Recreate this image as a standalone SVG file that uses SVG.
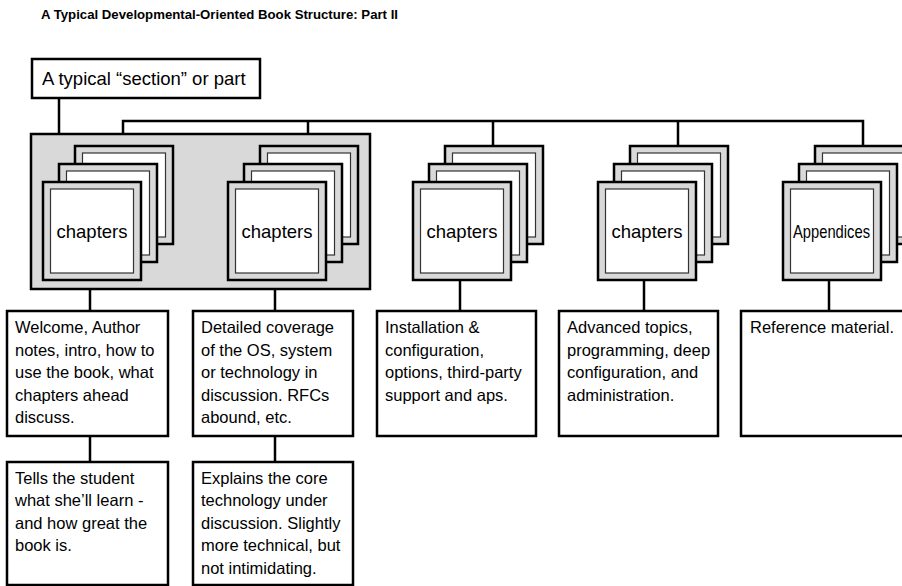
<svg xmlns="http://www.w3.org/2000/svg" xmlns:xlink="http://www.w3.org/1999/xlink" width="902" height="586" viewBox="0 0 902 586">
<style>
.title{font-family:"Liberation Sans",Arial,sans-serif;font-weight:bold;font-size:13px;fill:#000}
.lbl{font-family:"Liberation Sans",Arial,sans-serif;font-size:18.5px;fill:#000}
.body{font-family:"Liberation Sans",Arial,sans-serif;font-size:16.5px;fill:#000}
.box{fill:#fff;stroke:#000;stroke-width:2.5}
.conn{fill:none;stroke:#000;stroke-width:2.5}
</style>
<defs>
<g id="card">
<rect x="0" y="0" width="98" height="98" fill="#d9d9d9" stroke="#000" stroke-width="2.5"/>
<rect x="7.5" y="7" width="83" height="84" fill="#fff" stroke="#333" stroke-width="1.2"/>
</g>
</defs>
<rect width="902" height="586" fill="#fff"/>
<text class="title" x="41" y="19" textLength="357" lengthAdjust="spacingAndGlyphs">A Typical Developmental-Oriented Book Structure: Part II</text>

<g id="connectors">
<line class="conn" x1="59" y1="98" x2="59" y2="134"/>
<polyline class="conn" points="123,146 123,121 863,121 863,146"/>
<line class="conn" x1="308" y1="121" x2="308" y2="146"/>
<line class="conn" x1="493" y1="121" x2="493" y2="146"/>
<line class="conn" x1="678" y1="121" x2="678" y2="146"/>
<line class="conn" x1="90" y1="281" x2="90" y2="311"/>
<line class="conn" x1="275" y1="281" x2="275" y2="311"/>
<line class="conn" x1="460" y1="281" x2="460" y2="311"/>
<line class="conn" x1="644" y1="281" x2="644" y2="311"/>
<line class="conn" x1="829" y1="281" x2="829" y2="311"/>
<line class="conn" x1="90" y1="436" x2="90" y2="462"/>
<line class="conn" x1="275" y1="436" x2="275" y2="462"/>
</g>

<g id="part-box">
<rect class="box" x="32" y="59" width="228" height="39"/>
<text class="lbl" x="42" y="85">A typical “section” or part</text>
</g>

<g id="group-box">
<rect x="31" y="134" width="339" height="155" fill="#d9d9d9" stroke="#000" stroke-width="2.5"/>
</g>

<g id="stack1">
<use xlink:href="#card" x="75" y="146"/>
<use xlink:href="#card" x="59" y="164"/>
<use xlink:href="#card" x="43" y="182"/>
<text class="lbl" x="92" y="238" text-anchor="middle">chapters</text>
</g>
<g id="stack2">
<use xlink:href="#card" x="260" y="146"/>
<use xlink:href="#card" x="244" y="164"/>
<use xlink:href="#card" x="228" y="182"/>
<text class="lbl" x="277" y="238" text-anchor="middle">chapters</text>
</g>
<g id="stack3">
<use xlink:href="#card" x="445" y="146"/>
<use xlink:href="#card" x="429" y="164"/>
<use xlink:href="#card" x="413" y="182"/>
<text class="lbl" x="462" y="238" text-anchor="middle">chapters</text>
</g>
<g id="stack4">
<use xlink:href="#card" x="630" y="146"/>
<use xlink:href="#card" x="614" y="164"/>
<use xlink:href="#card" x="598" y="182"/>
<text class="lbl" x="647" y="238" text-anchor="middle">chapters</text>
</g>
<g id="stack5">
<use xlink:href="#card" x="815" y="146"/>
<use xlink:href="#card" x="799" y="164"/>
<use xlink:href="#card" x="783" y="182"/>
<text class="lbl" x="831.5" y="238" text-anchor="middle" textLength="77" lengthAdjust="spacingAndGlyphs">Appendices</text>
</g>

<g id="desc1">
<rect class="box" x="7" y="311" width="161" height="125"/>
<text class="body"><tspan x="15" y="333">Welcome, Author</tspan><tspan x="15" y="355.5">notes, intro, how to</tspan><tspan x="15" y="378">use the book, what</tspan><tspan x="15" y="400.5">chapters ahead</tspan><tspan x="15" y="423">discuss.</tspan></text>
</g>
<g id="desc2">
<rect class="box" x="193" y="311" width="160" height="125"/>
<text class="body"><tspan x="201" y="333">Detailed coverage</tspan><tspan x="201" y="355.5">of the OS, system</tspan><tspan x="201" y="378">or technology in</tspan><tspan x="201" y="400.5">discussion. RFCs</tspan><tspan x="201" y="423">abound, etc.</tspan></text>
</g>
<g id="desc3">
<rect class="box" x="377" y="311" width="159" height="125"/>
<text class="body"><tspan x="385" y="333">Installation &amp;</tspan><tspan x="385" y="355.5">configuration,</tspan><tspan x="385" y="378">options, third-party</tspan><tspan x="385" y="400.5">support and aps.</tspan></text>
</g>
<g id="desc4">
<rect class="box" x="559" y="311" width="159" height="125"/>
<text class="body"><tspan x="567" y="333">Advanced topics,</tspan><tspan x="567" y="355.5">programming, deep</tspan><tspan x="567" y="378">configuration, and</tspan><tspan x="567" y="400.5">administration.</tspan></text>
</g>
<g id="desc5">
<rect class="box" x="741" y="311" width="170" height="125"/>
<text class="body"><tspan x="750" y="333">Reference material.</tspan></text>
</g>
<g id="intro-note">
<rect class="box" x="7" y="462" width="161" height="123"/>
<text class="body"><tspan x="15" y="483.5">Tells the student</tspan><tspan x="15" y="506">what she’ll learn -</tspan><tspan x="15" y="528.5">and how great the</tspan><tspan x="15" y="551">book is.</tspan></text>
</g>
<g id="core-note">
<rect class="box" x="193" y="462" width="160" height="123"/>
<text class="body"><tspan x="201" y="483.5">Explains the core</tspan><tspan x="201" y="506">technology under</tspan><tspan x="201" y="528.5">discussion. Slightly</tspan><tspan x="201" y="551">more technical, but</tspan><tspan x="201" y="573.5">not intimidating.</tspan></text>
</g>
</svg>
